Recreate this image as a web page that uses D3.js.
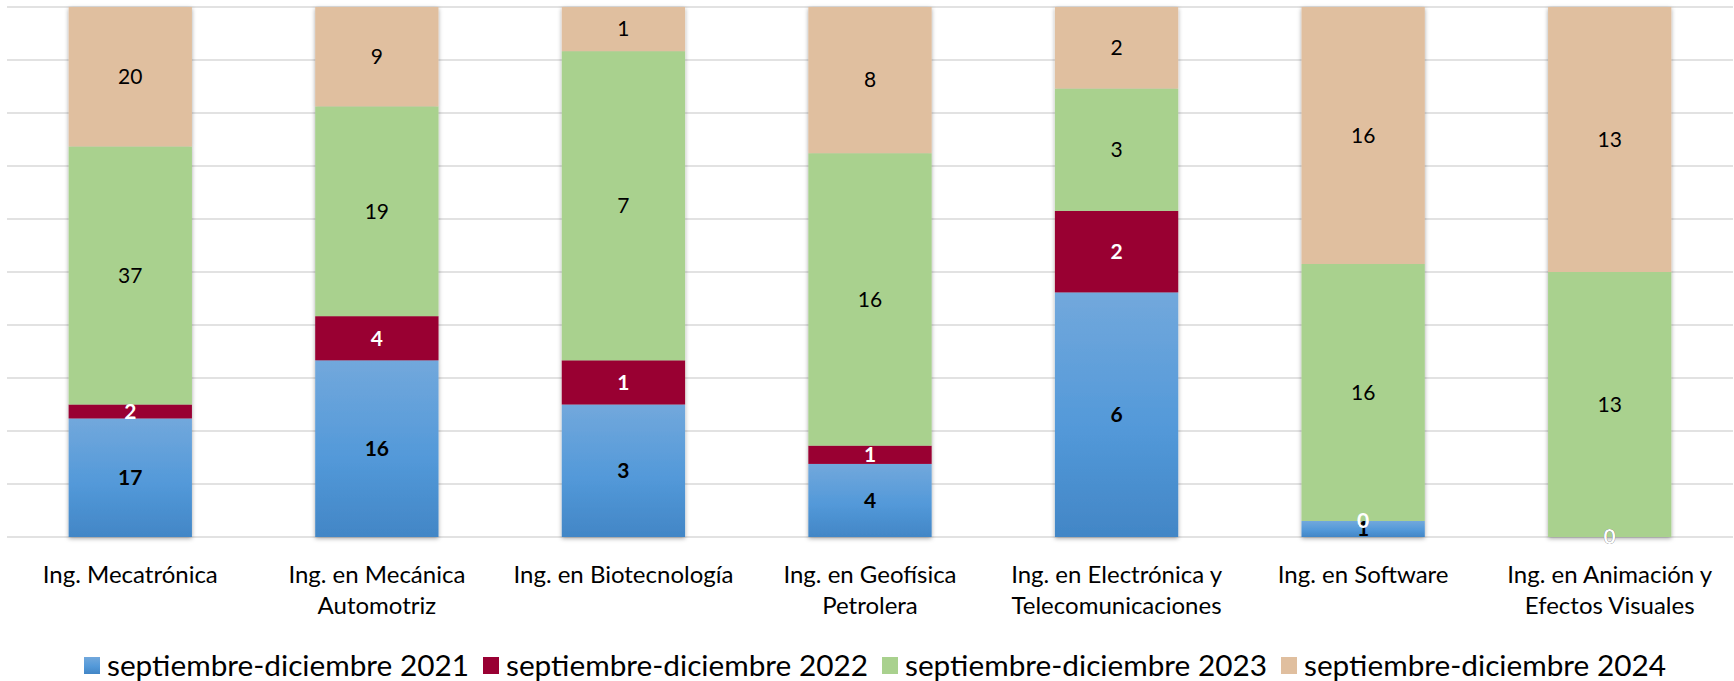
<!DOCTYPE html>
<html lang="es">
<head>
<meta charset="utf-8">
<script src="https://d3js.org/d3.v7.min.js"></script>
<style type="text/css">
body {
    margin: 0;
    background: #fff;
    font-family: Lato, "Open Sans", sans-serif;
}
.grid line {
    stroke: #d9d9d9;
    stroke-width: 1.5;
}
</style>
</head>
<body>
<div id="chart"></div>
<script type="text/javascript">

// chart data
var carreras = ["Ing. Mecatrónica", "Ing. en Mecánica Automotriz", "Ing. en Biotecnología",
    "Ing. en Geofísica Petrolera", "Ing. en Electrónica y Telecomunicaciones",
    "Ing. en Software", "Ing. en Animación y Efectos Visuales"];
var periodos = ["septiembre-diciembre 2021", "septiembre-diciembre 2022",
    "septiembre-diciembre 2023", "septiembre-diciembre 2024"];
var sd2021 = [17, 16, 3, 4, 6, 1, 0];
var sd2022 = [2, 4, 1, 1, 2, 0, 0];
var sd2023 = [37, 19, 7, 16, 3, 16, 13];
var sd2024 = [20, 9, 1, 8, 2, 16, 13];

var colores = ["url(#gradBlue)", "#990033", "#a9d18e", "#e0bf9f"];
var legendColores = ["url(#gradBlueLeg)", "#990033", "#a9d18e", "#e0bf9f"];

var width = 1734, height = 681;

var svg = d3.select("#chart").append("svg")
    .attr("width", width)
    .attr("height", height);

var defs = svg.append("defs");
function blueGrad(id) {
    var g = defs.append("linearGradient").attr("id", id)
        .attr("x1", 0).attr("y1", 0).attr("x2", 0).attr("y2", 1);
    g.append("stop").attr("offset", "0%").attr("stop-color", "#72a8dc");
    g.append("stop").attr("offset", "55%").attr("stop-color", "#5399d9");
    g.append("stop").attr("offset", "100%").attr("stop-color", "#4286c6");
}
blueGrad("gradBlue");
blueGrad("gradBlueLeg");

var shadow = defs.append("filter").attr("id", "sombra")
    .attr("x", "-10%").attr("y", "-5%").attr("width", "120%").attr("height", "110%");
shadow.append("feDropShadow")
    .attr("dx", 0).attr("dy", 1.5)
    .attr("stdDeviation", 2.2)
    .attr("flood-color", "#000")
    .attr("flood-opacity", 0.35);

var x = d3.scaleBand()
    .domain(carreras)
    .range([7, 1733])
    .paddingInner(0.5)
    .paddingOuter(0.25);

var y = d3.scaleLinear()
    .domain([0, 1])
    .range([537, 7]);

// gridlines
svg.append("g").attr("class", "grid")
    .selectAll("line")
    .data(y.ticks(10))
    .enter().append("line")
    .attr("x1", 7).attr("x2", 1733)
    .attr("y1", function(d) { return y(d); })
    .attr("y2", function(d) { return y(d); });

// build table for stack
var series = [sd2021, sd2022, sd2023, sd2024];
var tabla = carreras.map(function(c, i) {
    var row = { carrera: c };
    var total = 0;
    series.forEach(function(s) { total += s[i]; });
    periodos.forEach(function(p, k) { row[p] = series[k][i] / total; row["v" + k] = series[k][i]; });
    return row;
});

var stack = d3.stack().keys(periodos);
var capas = stack(tabla);

var barras = svg.append("g").selectAll("g")
    .data(tabla)
    .enter().append("g")
    .attr("filter", "url(#sombra)");

barras.each(function(row, i) {
    var g = d3.select(this);
    capas.forEach(function(capa, k) {
        var seg = capa[i];
        if (seg[1] - seg[0] <= 0) return;
        g.append("rect")
            .attr("x", x(row.carrera))
            .attr("width", x.bandwidth())
            .attr("y", y(seg[1]))
            .attr("height", y(seg[0]) - y(seg[1]))
            .attr("fill", colores[k]);
    });
});

// data labels
var etiquetas = svg.append("g");
capas.forEach(function(capa, k) {
    etiquetas.selectAll(".lbl" + k)
        .data(capa)
        .enter().append("text")
        .attr("class", "lbl" + k)
        .attr("x", function(d) { return x(d.data.carrera) + x.bandwidth() / 2; })
        .attr("y", function(d) { return (y(d[0]) + y(d[1])) / 2; })
        .attr("dy", "0.35em")
        .attr("text-anchor", "middle")
        .style("font-size", "21px")
        .style("font-weight", k < 2 ? "bold" : "normal")
        .style("fill", k == 1 ? "#fff" : "#000")
        .text(function(d) { return d.data["v" + k]; });
});

// x axis labels
var ejeX = svg.append("g");
ejeX.selectAll("text")
    .data(carreras)
    .enter().append("text")
    .attr("x", function(d) { return x(d) + x.bandwidth() / 2; })
    .attr("y", 583)
    .attr("text-anchor", "middle")
    .style("font-size", "24px")
    .style("fill", "#000")
    .text(function(d) { return d; })
    .each(function(d) {
        var t = d3.select(this);
        var palabras = d.split(" ");
        var linea = [];
        var cx = t.attr("x");
        t.text(null);
        var tspan = t.append("tspan").attr("x", cx).attr("dy", 0);
        palabras.forEach(function(p) {
            linea.push(p);
            tspan.text(linea.join(" "));
            if (tspan.node().getComputedTextLength() > x.step() * 0.97 && linea.length > 1) {
                linea.pop();
                tspan.text(linea.join(" "));
                linea = [p];
                tspan = t.append("tspan").attr("x", cx).attr("dy", "31px").text(p);
            }
        });
    });

// legend
var leyenda = svg.append("g").selectAll("g")
    .data(periodos)
    .enter().append("g")
    .attr("transform", function(d, i) { return "translate(" + (84 + i * 399) + ",657)"; });

leyenda.append("rect")
    .attr("width", 16)
    .attr("height", 17)
    .attr("fill", function(d, i) { return legendColores[i]; });

leyenda.append("text")
    .attr("x", 23)
    .attr("y", 19)
    .attr("textLength", 362)
    .attr("lengthAdjust", "spacingAndGlyphs")
    .style("font-size", "29px")
    .style("fill", "#000")
    .text(function(d) { return d; });

</script>
</body>
</html>
